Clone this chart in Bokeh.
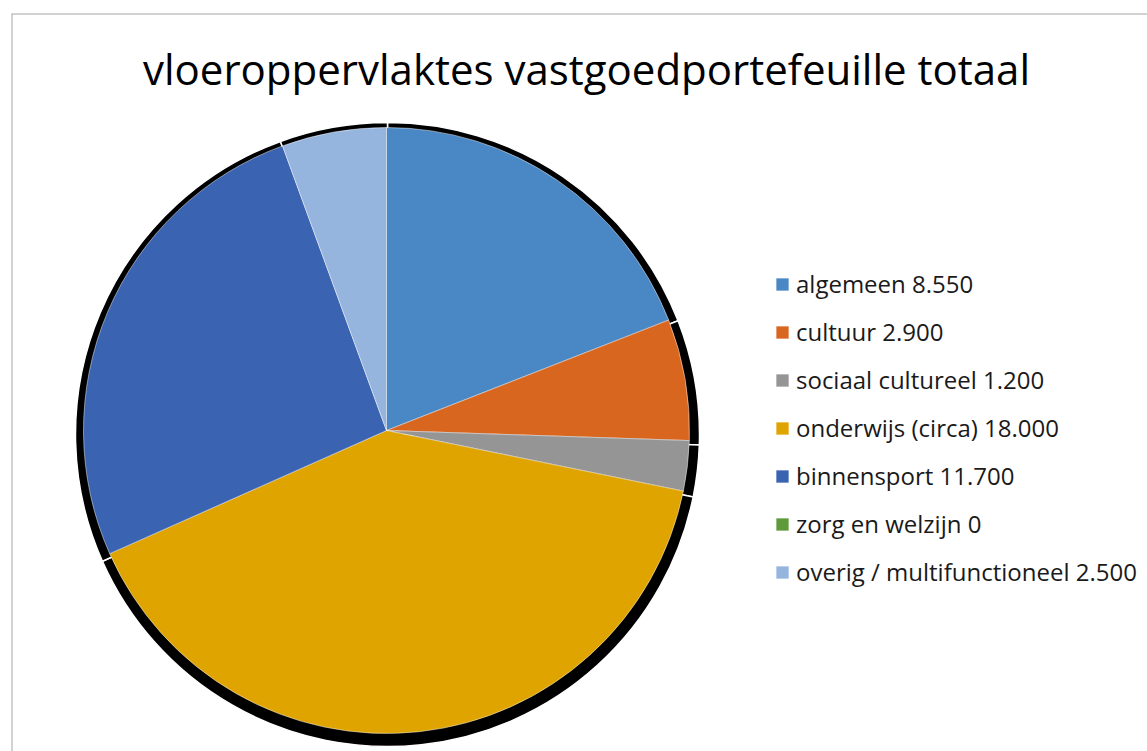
import math
from bokeh.plotting import figure
from bokeh.models import ColumnDataSource, Range1d, Span, Legend, LegendItem
from bokeh.core.properties import value
from bokeh.embed import file_html
from bokeh.resources import INLINE

# ---- data ----
categories = ["algemeen", "cultuur", "sociaal cultureel", "onderwijs (circa)",
              "binnensport", "zorg en welzijn", "overig / multifunctioneel"]
values = [8550, 2900, 1200, 18000, 11700, 0, 2500]
colors = ["#4a88c5", "#d9661f", "#959595", "#e0a400", "#3a63b1", "#5f9a3a", "#95b5df"]
title_text = "vloeroppervlaktes vastgoedportefeuille totaal"

def nl(v):
    return f"{v:,}".replace(",", ".")

labels = [f"{c} {nl(v)}" for c, v in zip(categories, values)]
total = float(sum(values))
starts, ends = [], []
cum = 0.0
for v in values:
    starts.append(math.pi / 2 - cum / total * 2 * math.pi)
    cum += v
    ends.append(math.pi / 2 - cum / total * 2 * math.pi)

R = 303
radii = [R if v > 0 else 0 for v in values]
shadow_radii = [R + 9 if v > 0 else 0 for v in values]

src = ColumnDataSource(dict(cat=categories, val=values, start=starts, end=ends,
                            color=colors, label=labels, r=radii, rs=shadow_radii))

W, H = 1147, 751
p = figure(width=W, height=H, output_backend="svg", toolbar_location=None,
           x_range=Range1d(11, 1147), y_range=Range1d(-751, -13),
           min_border_left=11, min_border_top=13, min_border_right=0, min_border_bottom=0)
p.axis.visible = False
p.grid.visible = False
p.outline_line_color = None
p.background_fill_color = "white"
p.border_fill_color = "white"

cx, cy = 386, -430

# shadow
p.wedge(x=cx + 1, y=cy - 4, radius="rs", start_angle="start", end_angle="end",
        direction="clock", source=src, fill_color="black", line_color="white",
        line_width=1.5)

rends = p.wedge(x=cx, y=cy, radius="r", start_angle="start", end_angle="end",
                direction="clock", source=src, fill_color="color",
                line_color="white", line_width=0.8, line_alpha=0.6)

# chart border (left + top)
p.add_layout(Span(location=11, dimension="height", line_color="#a6a6a6", line_width=2))
p.add_layout(Span(location=-13, dimension="width", line_color="#a6a6a6", line_width=2))

p.text(x=[586], y=[-68], text=[title_text], text_font=value("Open Sans"),
       text_align="center", text_baseline="middle", text_font_size="42px",
       text_color="black")

items = [LegendItem(label=labels[i], renderers=[rends], index=i) for i in range(len(values))]
leg = Legend(items=items, location=(763, 163), orientation="vertical",
             label_text_font="Open Sans", label_text_font_size="24px",
             label_text_color="#1a1a1a",
             glyph_width=16, glyph_height=16, label_height=32, spacing=15,
             label_standoff=6, padding=0, margin=0,
             border_line_color=None, background_fill_alpha=0)
p.add_layout(leg, "center")

open("out.html", "w").write(file_html(p, INLINE))
